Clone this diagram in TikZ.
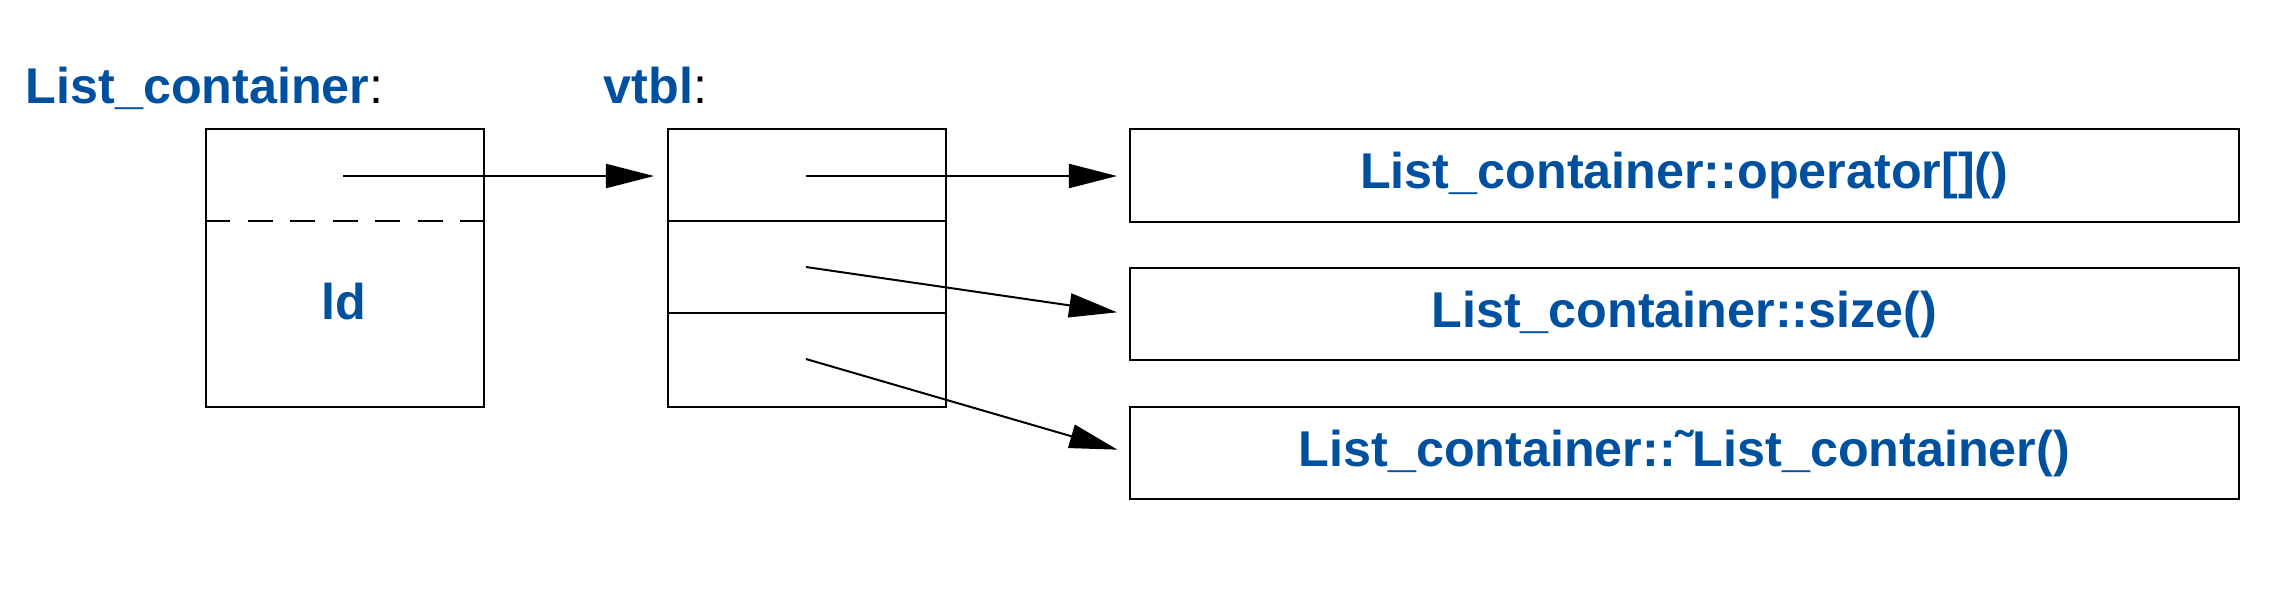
\documentclass[tikz,border=0pt]{standalone}
\usepackage{fontspec}
\setmainfont{Liberation Sans}
\usetikzlibrary{arrows.meta}
\definecolor{codeblue}{RGB}{0,80,160}
\tikzset{
  ln/.style={line width=0.02cm},
  box/.style={ln, draw, rectangle, inner sep=0pt, anchor=north west},
  lbl/.style={text=codeblue, font=\fontsize{14.3pt}{17pt}\selectfont\bfseries, inner sep=0pt},
  ttl/.style={font=\fontsize{14.3pt}{17pt}\selectfont, inner sep=0pt, anchor=base west},
  ptr/.style={ln, -{Triangle[length=0.48cm, width=0.24cm]}},
  dash line/.style={ln, dash pattern=on 0.25cm off 0.175cm},
}
\begin{document}
\begin{tikzpicture}[x=0.01cm, y=-0.01cm]
\useasboundingbox (0,0) rectangle (2278,608);
% titles
\node[ttl] (t1) at (25,103) {\textcolor{codeblue}{\bfseries List\_container}:};
\node[ttl] (t2) at (603,103) {\textcolor{codeblue}{\bfseries vtbl}:};
% object box
\node[box, minimum width=2.78cm, minimum height=2.78cm] (obj) at (205,128) {};
\draw[dash line] (obj.west |- 0,221) coordinate (d1) -- (obj.east |- 0,221) coordinate (d2);
\node[lbl] (ld) at (344,302) {ld};
\coordinate (p0) at (343,176);
% vtbl
\node[box, minimum width=2.78cm, minimum height=2.78cm] (vt) at (667,128) {};
\draw[ln] (vt.west |- 0,221) coordinate (v1) -- (vt.east |- 0,221) coordinate (v2);
\draw[ln] (vt.west |- 0,313) coordinate (v3) -- (vt.east |- 0,313) coordinate (v4);
\coordinate (q0) at (654,176);
\coordinate (p1) at (806,176);
\coordinate (p2) at (806,267);
\coordinate (p3) at (806,359);
% function boxes
\node[box, minimum width=11.08cm, minimum height=0.93cm] (f1) at (1129,128) {};
\node[lbl] at (f1.center) {List\_container::operator[]()};
\node[box, minimum width=11.08cm, minimum height=0.92cm] (f2) at (1129,267) {};
\node[lbl] at (f2.center) {List\_container::size()};
\node[box, minimum width=11.08cm, minimum height=0.92cm] (f3) at (1129,406) {};
\node[lbl] at (f3.center) {List\_container::˜List\_container()};
% pointers
\draw[ptr] (p0) -- (q0);
\draw[ptr, shorten >=0.12cm] (p1) -- (f1.west |- p1);
\draw[ptr, shorten >=0.12cm] (p2) -- (f2.west);
\draw[ptr, shorten >=0.12cm] (p3) -- (f3.west);
\end{tikzpicture}
\end{document}
